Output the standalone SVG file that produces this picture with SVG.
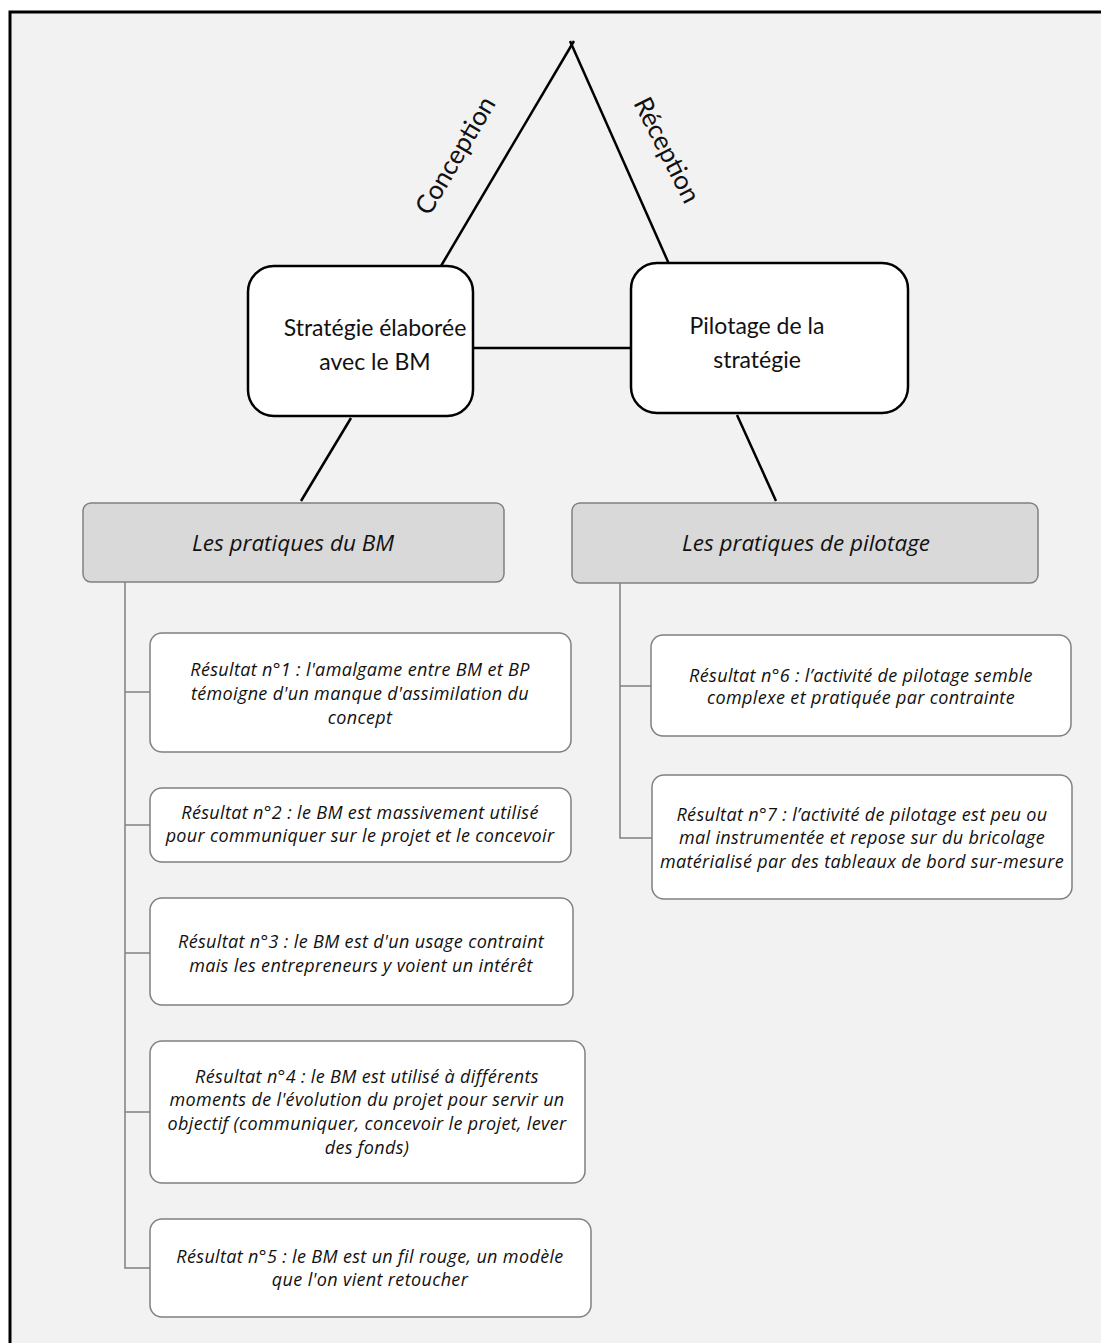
<svg xmlns="http://www.w3.org/2000/svg" width="1101" height="1343" viewBox="0 0 1101 1343">
<style>
.bg{fill:#f2f2f2;stroke:#000;stroke-width:3}
.main{fill:#fff;stroke:#000;stroke-width:2.5}
.cat{fill:#d9d9d9;stroke:#808080;stroke-width:1.5}
.res{fill:#fff;stroke:#808080;stroke-width:1.5}
.blk{stroke:#000;stroke-width:2.5;fill:none}
.gry{stroke:#808080;stroke-width:1.5;fill:none}
text{font-family:Lato,"Open Sans","Liberation Sans",sans-serif;fill:#111;text-anchor:middle}
.t1{font-size:23px}
.t2{font-size:22.5px;font-style:italic;font-family:"Open Sans",Lato,sans-serif}
.t3{font-size:18px;letter-spacing:0.35px;font-style:italic;font-family:"Open Sans",Lato,sans-serif}
.rot{font-size:26px}
</style>
<rect class="bg" x="10" y="12" width="1110" height="1350"/>
<g id="connectors">
<line class="blk" x1="441" y1="266" x2="574" y2="41"/>
<line class="blk" x1="669" y1="264" x2="570" y2="41"/>
<line class="blk" x1="473" y1="348" x2="631" y2="348"/>
<line class="blk" x1="351" y1="418" x2="301" y2="501"/>
<line class="blk" x1="737" y1="415" x2="776" y2="501"/>
<polyline class="gry" points="125,582 125,1268 150,1268"/>
<line class="gry" x1="125" y1="692" x2="150" y2="692"/>
<line class="gry" x1="125" y1="825" x2="150" y2="825"/>
<line class="gry" x1="125" y1="953" x2="150" y2="953"/>
<line class="gry" x1="125" y1="1112" x2="150" y2="1112"/>
<polyline class="gry" points="620,583 620,838 652,838"/>
<line class="gry" x1="620" y1="686" x2="651" y2="686"/>
</g>
<g id="label-conception"><text class="rot" transform="translate(463,160) rotate(-59.5)">Conception</text></g>
<g id="label-reception"><text class="rot" transform="translate(659,154) rotate(63)">Réception</text></g>
<g id="strategie">
<rect class="main" x="248" y="266" width="225" height="150" rx="26"/>
<text class="t1" x="375" y="336">Stratégie élaborée</text>
<text class="t1" x="375" y="370">avec le BM</text>
</g>
<g id="pilotage">
<rect class="main" x="631" y="263" width="277" height="150" rx="26"/>
<text class="t1" x="757" y="334">Pilotage de la</text>
<text class="t1" x="757" y="368">stratégie</text>
</g>
<g id="pratiques-bm">
<rect class="cat" x="83" y="503" width="421" height="79" rx="8"/>
<text class="t2" x="293" y="551">Les pratiques du BM</text>
</g>
<g id="pratiques-pilotage">
<rect class="cat" x="572" y="503" width="466" height="80" rx="8"/>
<text class="t2" x="806" y="551">Les pratiques de pilotage</text>
</g>
<g id="r1">
<rect class="res" x="150" y="633" width="421" height="119" rx="12"/>
<text class="t3" x="360" y="676">Résultat n°1 : l'amalgame entre BM et BP</text>
<text class="t3" x="360" y="700">témoigne d'un manque d'assimilation du</text>
<text class="t3" x="360" y="724">concept</text>
</g>
<g id="r2">
<rect class="res" x="150" y="788" width="421" height="74" rx="12"/>
<text class="t3" x="360" y="819">Résultat n°2 : le BM est massivement utilisé</text>
<text class="t3" x="360" y="842">pour communiquer sur le projet et le concevoir</text>
</g>
<g id="r3">
<rect class="res" x="150" y="898" width="423" height="107" rx="12"/>
<text class="t3" x="361" y="948">Résultat n°3 : le BM est d'un usage contraint</text>
<text class="t3" x="361" y="972">mais les entrepreneurs y voient un intérêt</text>
</g>
<g id="r4">
<rect class="res" x="150" y="1041" width="435" height="142" rx="12"/>
<text class="t3" x="367" y="1083">Résultat n°4 : le BM est utilisé à différents</text>
<text class="t3" x="367" y="1106">moments de l'évolution du projet pour servir un</text>
<text class="t3" x="367" y="1130">objectif (communiquer, concevoir le projet, lever</text>
<text class="t3" x="367" y="1154">des fonds)</text>
</g>
<g id="r5">
<rect class="res" x="150" y="1219" width="441" height="98" rx="12"/>
<text class="t3" x="370" y="1263">Résultat n°5 : le BM est un fil rouge, un modèle</text>
<text class="t3" x="370" y="1286">que l'on vient retoucher</text>
</g>
<g id="r6">
<rect class="res" x="651" y="635" width="420" height="101" rx="12"/>
<text class="t3" x="861" y="682">Résultat n°6 : l’activité de pilotage semble</text>
<text class="t3" x="861" y="704">complexe et pratiquée par contrainte</text>
</g>
<g id="r7">
<rect class="res" x="652" y="775" width="420" height="124" rx="12"/>
<text class="t3" x="862" y="821">Résultat n°7 : l’activité de pilotage est peu ou</text>
<text class="t3" x="862" y="844">mal instrumentée et repose sur du bricolage</text>
<text class="t3" x="862" y="868">matérialisé par des tableaux de bord sur-mesure</text>
</g>
</svg>
